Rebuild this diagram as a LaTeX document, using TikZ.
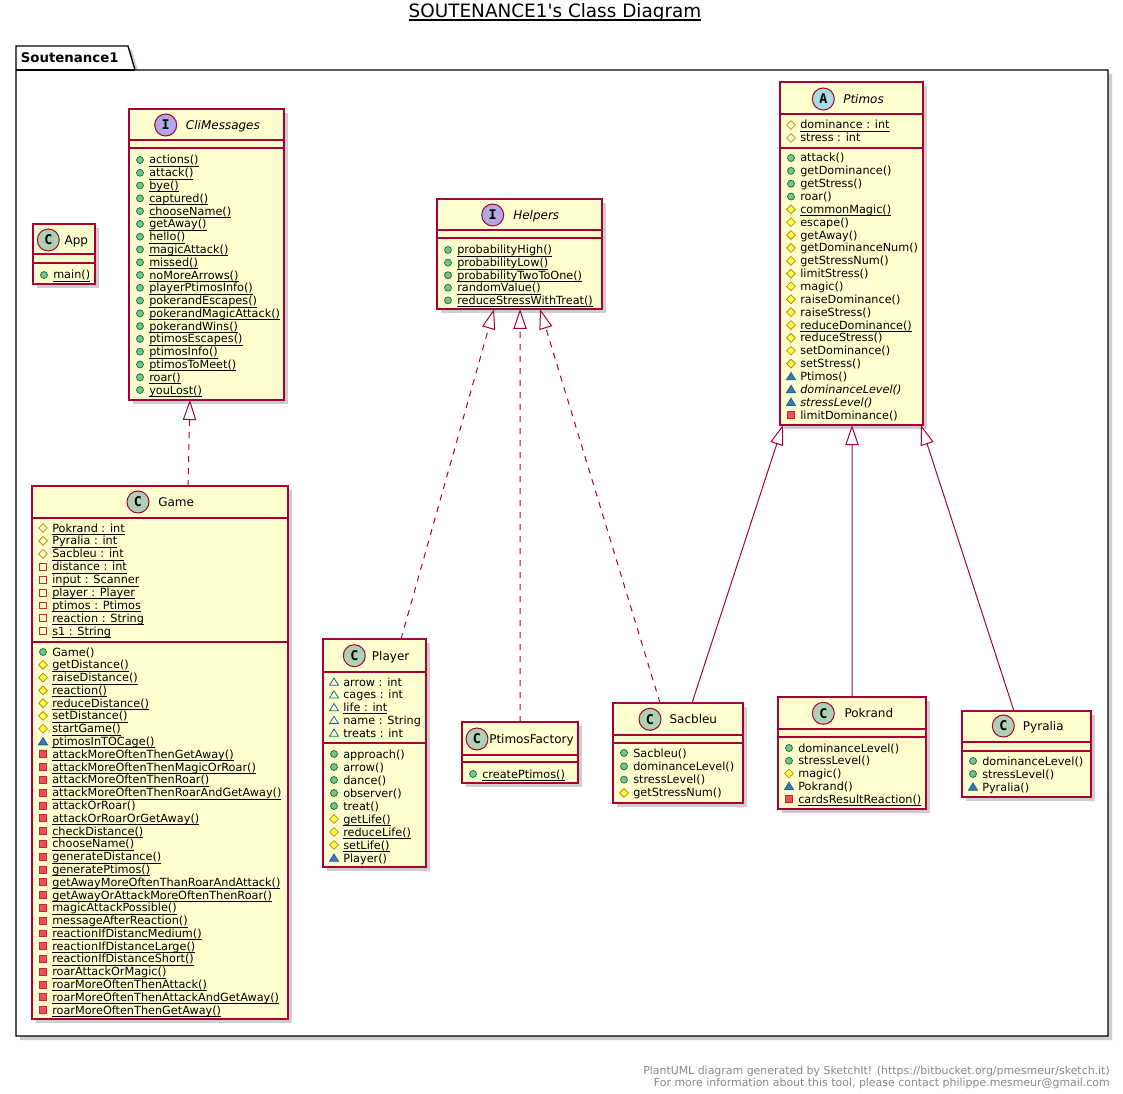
\documentclass[tikz,border=0pt]{standalone}
\usepackage{fontspec}
\setmainfont{DejaVu Sans}
\newfontfamily\spotfont{DejaVu Sans Mono}
\usetikzlibrary{arrows.meta,shadows}

\definecolor{umlborder}{HTML}{A80036}
\definecolor{umlfill}{HTML}{FEFECE}
\definecolor{spotC}{HTML}{ADD1B2}
\definecolor{spotI}{HTML}{B4A7E5}
\definecolor{spotA}{HTML}{A9DCDF}
\definecolor{pubF}{HTML}{84BE84}\definecolor{pubD}{HTML}{038048}
\definecolor{protF}{HTML}{FFFF44}\definecolor{protD}{HTML}{B38D22}
\definecolor{pkgF}{HTML}{4177AF}\definecolor{pkgD}{HTML}{1963A0}
\definecolor{privF}{HTML}{F24D5C}\definecolor{privD}{HTML}{C82930}
\definecolor{footgray}{HTML}{888888}

\tikzset{
  boxshadow/.style={drop shadow={shadow xshift=3pt,shadow yshift=-3pt,opacity=0.35,fill=black!55}},
  classbox/.style={draw=umlborder, fill=umlfill, line width=1pt, inner sep=0pt, outer sep=0pt, rectangle, boxshadow},
  sepline/.style={draw=umlborder, line width=1pt},
  member/.style={anchor=base west, inner sep=0pt, font=\fontsize{8.45}{10}\selectfont},
  cname/.style={anchor=base west, inner sep=0pt, font=\fontsize{9}{11}\selectfont},
  spot/.style={circle, draw=umlborder, line width=0.75pt, minimum size=16.5pt, inner sep=0pt,
               font=\spotfont\bfseries\fontsize{10}{10}\selectfont},
  icon/.style={line width=0.6pt},
  realize/.style={umlborder, line width=0.75pt, dash pattern=on 4.5pt off 4.5pt,
                  -{Triangle[open, length=15pt, width=10pt]}},
  extends/.style={umlborder, line width=0.75pt, -{Triangle[open, length=15pt, width=10pt]}}
}

% visibility markers: p = public, o = protected, k = package, v = private; m = method, f = field
\newcommand\icopm[2]{\filldraw[icon, fill=pubF, draw=pubD] (#1,#2) circle[radius=2.6pt];}
\newcommand\icopf[2]{\draw[icon, draw=pubD] (#1,#2) circle[radius=2.6pt];}
\newcommand\icoom[2]{\begin{scope}[shift={(#1,#2)}]\filldraw[icon, fill=protF, draw=protD] (0pt,3.3pt) -- (3.3pt,0pt) -- (0pt,-3.3pt) -- (-3.3pt,0pt) -- cycle;\end{scope}}
\newcommand\icoof[2]{\begin{scope}[shift={(#1,#2)}]\draw[icon, draw=protD] (0pt,3.3pt) -- (3.3pt,0pt) -- (0pt,-3.3pt) -- (-3.3pt,0pt) -- cycle;\end{scope}}
\newcommand\icokm[2]{\begin{scope}[shift={(#1,#2)}]\filldraw[icon, fill=pkgF, draw=pkgD] (-3.4pt,-2.5pt) -- (3.4pt,-2.5pt) -- (0pt,3pt) -- cycle;\end{scope}}
\newcommand\icokf[2]{\begin{scope}[shift={(#1,#2)}]\draw[icon, draw=pkgD] (-3.4pt,-2.5pt) -- (3.4pt,-2.5pt) -- (0pt,3pt) -- cycle;\end{scope}}
\newcommand\icovm[2]{\begin{scope}[shift={(#1,#2)}]\filldraw[icon, fill=privF, draw=privD] (-2.6pt,-2.6pt) rectangle (2.6pt,2.6pt);\end{scope}}
\newcommand\icovf[2]{\begin{scope}[shift={(#1,#2)}]\draw[icon, draw=privD] (-2.6pt,-2.6pt) rectangle (2.6pt,2.6pt);\end{scope}}

% static members: a thin rule just under the baseline
\newsavebox\statbox
\newcommand\stat[1]{\sbox\statbox{#1}\rlap{\rule[-2pt]{\wd\statbox}{0.55pt}}\usebox\statbox}
% one member row: left edge, row centre, marker kind, text
\newcommand\mem[4]{\csname ico#3\endcsname{#1+11}{#2}\node[member] at (#1+20,#2+4) {#4};}
% a compartment of rows: left edge, first row centre, row step, kind/text list
\newcommand\members[4]{\foreach [count=\i from 0] \k/\t in {#4} {\mem{#1}{#2+\i*#3}{\k}{\t}}}
% class box: name, left, top, right, bottom
\newcommand\classnode[5]{\node[classbox, anchor=north west, minimum width={(#4-#2)*0.75pt}, minimum height={(#5-#3)*0.75pt}] (#1) at (#2,#3) {};}
% separator line across a box
\newcommand\sep[3]{\draw[sepline] (#1,#3) -- (#2,#3);}
% header: spot centre x, centre y, letter, colour, name x, name
\newcommand\header[6]{\node[spot, fill=#4] at (#1,#2) {#3};\node[cname] at (#5,#2+4.5) {#6};}

\begin{document}
\begin{tikzpicture}[x=0.75pt, y=-0.75pt]
\useasboundingbox (0,0) rectangle (1123,1094);
\fill[white] (0,0) rectangle (1123,1094);

% title
\node[font=\fontsize{13.8}{16}\selectfont, inner sep=0pt] (title) at (555,12)
  {\sbox\statbox{SOUTENANCE1\textquotesingle s Class Diagram}\rlap{\rule[-2.6pt]{\wd\statbox}{0.8pt}}\usebox\statbox};

% package frame
\path[draw=black, fill=white, line width=1pt, drop shadow={shadow xshift=3pt,shadow yshift=-3pt,opacity=0.35,fill=black!55}]
  (16,46) -- (128,46) -- (135,70) -- (1108,70) -- (1108,1036) -- (16,1036) -- cycle;
\draw[line width=1pt] (16,70) -- (135,70);
\node[anchor=base west, inner sep=0pt, font=\bfseries\fontsize{10}{12}\selectfont] (pkglabel) at (20.5,62.5) {Soutenance1};

% App
\classnode{app}{33}{224}{95}{284}
\header{48.3}{240}{C}{spotC}{64.3}{App}
\sep{33}{95}{254}\sep{33}{95}{263}
\members{33}{275}{12.8}{pm/{\stat{main()}}}

% CliMessages
\classnode{clim}{129}{109}{284}{400}
\header{165.7}{125}{I}{spotI}{185.7}{\textit{CliMessages}}
\sep{129}{284}{140}\sep{129}{284}{148}
\members{129}{160}{12.78}{pm/{\stat{actions()}}, pm/{\stat{attack()}}, pm/{\stat{bye()}}, pm/{\stat{captured()}},
  pm/{\stat{chooseName()}}, pm/{\stat{getAway()}}, pm/{\stat{hello()}}, pm/{\stat{magicAttack()}},
  pm/{\stat{missed()}}, pm/{\stat{noMoreArrows()}}, pm/{\stat{playerPtimosInfo()}}, pm/{\stat{pokerandEscapes()}},
  pm/{\stat{pokerandMagicAttack()}}, pm/{\stat{pokerandWins()}}, pm/{\stat{ptimosEscapes()}}, pm/{\stat{ptimosInfo()}},
  pm/{\stat{ptimosToMeet()}}, pm/{\stat{roar()}}, pm/{\stat{youLost()}}}

% Helpers
\classnode{helpers}{437}{199}{602}{309}
\header{492.7}{215}{I}{spotI}{513}{\textit{Helpers}}
\sep{437}{602}{230}\sep{437}{602}{238}
\members{437}{250}{12.6}{pm/{\stat{probabilityHigh()}}, pm/{\stat{probabilityLow()}}, pm/{\stat{probabilityTwoToOne()}},
  pm/{\stat{randomValue()}}, pm/{\stat{reduceStressWithTreat()}}}

% Ptimos
\classnode{ptimos}{780}{82}{923}{425}
\header{823.3}{99}{A}{spotA}{843}{\textit{Ptimos}}
\sep{780}{923}{114}
\members{780}{125}{13}{of/{\stat{dominance : int}}, of/{stress : int}}
\sep{780}{923}{148}
\members{780}{158}{12.85}{pm/{attack()}, pm/{getDominance()}, pm/{getStress()}, pm/{roar()}, om/{\stat{commonMagic()}},
  om/{escape()}, om/{getAway()}, om/{getDominanceNum()}, om/{getStressNum()}, om/{limitStress()}, om/{magic()},
  om/{raiseDominance()}, om/{raiseStress()}, om/{\stat{reduceDominance()}}, om/{reduceStress()}, om/{setDominance()},
  om/{setStress()}, km/{Ptimos()}, km/{\textit{dominanceLevel()}}, km/{\textit{stressLevel()}}, vm/{limitDominance()}}

% Game
\classnode{game}{32}{486}{288}{1019}
\header{138}{502}{C}{spotC}{158}{Game}
\sep{32}{288}{518}
\members{32}{528}{12.9}{of/{\stat{Pokrand : int}}, of/{\stat{Pyralia : int}}, of/{\stat{Sacbleu : int}},
  vf/{\stat{distance : int}}, vf/{\stat{input : Scanner}}, vf/{\stat{player : Player}}, vf/{\stat{ptimos : Ptimos}},
  vf/{\stat{reaction : String}}, vf/{\stat{s1 : String}}}
\sep{32}{288}{642}
\members{32}{652}{12.79}{pm/{Game()}, om/{\stat{getDistance()}}, om/{\stat{raiseDistance()}}, om/{\stat{reaction()}},
  om/{\stat{reduceDistance()}}, om/{\stat{setDistance()}}, om/{\stat{startGame()}}, km/{\stat{ptimosInTOCage()}},
  vm/{\stat{attackMoreOftenThenGetAway()}}, vm/{\stat{attackMoreOftenThenMagicOrRoar()}},
  vm/{\stat{attackMoreOftenThenRoar()}}, vm/{\stat{attackMoreOftenThenRoarAndGetAway()}},
  vm/{attackOrRoar()}, vm/{\stat{attackOrRoarOrGetAway()}}, vm/{\stat{checkDistance()}},
  vm/{\stat{chooseName()}}, vm/{\stat{generateDistance()}}, vm/{\stat{generatePtimos()}},
  vm/{\stat{getAwayMoreOftenThanRoarAndAttack()}}, vm/{\stat{getAwayOrAttackMoreOftenThenRoar()}},
  vm/{\stat{magicAttackPossible()}}, vm/{\stat{messageAfterReaction()}}, vm/{\stat{reactionIfDistancMedium()}},
  vm/{\stat{reactionIfDistanceLarge()}}, vm/{\stat{reactionIfDistanceShort()}}, vm/{\stat{roarAttackOrMagic()}},
  vm/{\stat{roarMoreOftenThenAttack()}}, vm/{\stat{roarMoreOftenThenAttackAndGetAway()}},
  vm/{\stat{roarMoreOftenThenGetAway()}}}

% Player
\classnode{player}{323}{639}{426}{867}
\header{354.3}{655.7}{C}{spotC}{371.7}{Player}
\sep{323}{426}{672}
\members{323}{682}{12.75}{kf/{arrow : int}, kf/{cages : int}, kf/{\stat{life : int}}, kf/{name : String}, kf/{treats : int}}
\sep{323}{426}{743}
\members{323}{754}{13}{pm/{approach()}, pm/{arrow()}, pm/{dance()}, pm/{observer()}, pm/{treat()},
  om/{\stat{getLife()}}, om/{\stat{reduceLife()}}, om/{\stat{setLife()}}, km/{Player()}}

% PtimosFactory
\classnode{factory}{462}{722}{578}{783}
\header{477}{739}{C}{spotC}{489}{PtimosFactory}
\sep{462}{578}{755}\sep{462}{578}{762}
\members{462}{774}{12.8}{pm/{\stat{createPtimos()}}}

% Sacbleu
\classnode{sacbleu}{613}{703}{743}{803}
\header{650}{719.3}{C}{spotC}{669.3}{Sacbleu}
\sep{613}{743}{735}\sep{613}{743}{743}
\members{613}{753}{13.3}{pm/{Sacbleu()}, pm/{dominanceLevel()}, pm/{stressLevel()}, om/{getStressNum()}}

% Pokrand
\classnode{pokrand}{778}{697}{926}{809}
\header{823.3}{713.3}{C}{spotC}{844.3}{Pokrand}
\sep{778}{926}{729}\sep{778}{926}{737}
\members{778}{748}{12.75}{pm/{dominanceLevel()}, pm/{stressLevel()}, om/{magic()}, km/{Pokrand()},
  vm/{\stat{cardsResultReaction()}}}

% Pyralia
\classnode{pyralia}{962}{711}{1091}{797}
\header{1003.3}{726}{C}{spotC}{1022.7}{Pyralia}
\sep{962}{1091}{742}\sep{962}{1091}{751}
\members{962}{761}{13}{pm/{dominanceLevel()}, pm/{stressLevel()}, km/{Pyralia()}}

% realizations and generalizations
\draw[realize] ([xshift=21pt]game.north) -- ([xshift=-12.4pt]clim.south);
\draw[realize] ([xshift=19.9pt]player.north) -- ([xshift=-19.1pt]helpers.south);
\draw[realize] (factory.north) -- ([xshift=0.4pt]helpers.south);
\draw[realize] ([xshift=-13.5pt]sacbleu.north) -- ([xshift=15.4pt]helpers.south);
\draw[extends] ([xshift=10.5pt]sacbleu.north) -- ([xshift=-51.4pt]ptimos.south);
\draw[extends] (pokrand.north) -- ([xshift=0.4pt]ptimos.south);
\draw[extends] ([xshift=-9.4pt]pyralia.north) -- ([xshift=52.1pt]ptimos.south);

% footer
\node[anchor=east, align=right, inner sep=0pt, text=footgray, font=\fontsize{8.2}{9}\selectfont] (footer) at (1110,1077)
  {PlantUML diagram generated by SketchIt! (https://bitbucket.org/pmesmeur/sketch.it)\\
   For more information about this tool, please contact philippe.mesmeur@gmail.com};
\end{tikzpicture}
\end{document}
